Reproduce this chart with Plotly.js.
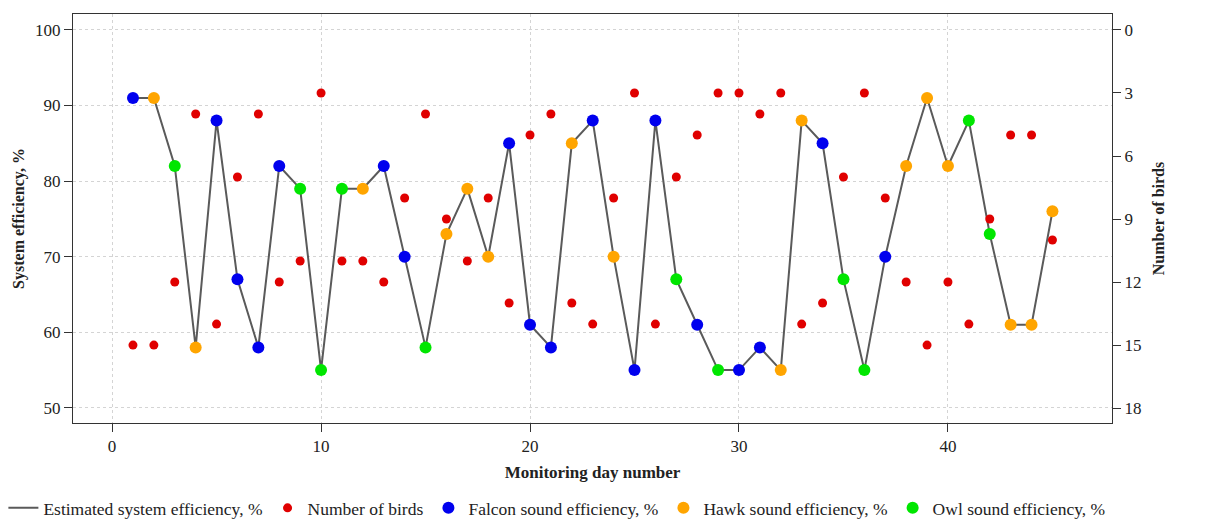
<!DOCTYPE html>
<html>
<head>
<meta charset="utf-8">
<script src="https://cdn.plot.ly/plotly-3.0.1.min.js"></script>
<style>html,body{margin:0;padding:0;background:#fff;}#chart{width:1213px;height:519px;}</style>
</head>
<body>
<div id="chart"></div>
<script>
const days = [1,2,3,4,5,6,7,8,9,10,11,12,13,14,15,16,17,18,19,20,21,22,23,24,25,26,27,28,29,30,31,32,33,34,35,36,37,38,39,40,41,42,43,44,45];
const efficiency = [91,91,82,58,88,67,58,82,79,55,79,79,82,70,58,73,79,70,85,61,58,85,88,70,55,88,67,61,55,55,58,55,88,85,67,55,70,82,91,82,88,73,61,61,76];
const birds = [15,15,12,4,14,7,4,12,11,3,11,11,12,8,4,9,11,8,13,5,4,13,14,8,3,14,7,5,3,3,4,3,14,13,7,3,8,12,15,12,14,9,5,5,10];
const sound = ['Falcon','Hawk','Owl','Hawk','Falcon','Falcon','Falcon','Falcon','Owl','Owl','Owl','Hawk','Falcon','Falcon','Owl','Hawk','Hawk','Hawk','Falcon','Falcon','Falcon','Hawk','Falcon','Hawk','Falcon','Falcon','Owl','Falcon','Owl','Falcon','Falcon','Hawk','Hawk','Falcon','Owl','Owl','Falcon','Hawk','Hawk','Hawk','Owl','Owl','Hawk','Hawk','Hawk'];
const soundTypes = ['Falcon','Hawk','Owl'];
const soundColors = {Falcon:'#0000ee', Hawk:'#ffa500', Owl:'#00e600'};
const xTicks = [0, 10, 20, 30, 40];
const yTicks = [50, 60, 70, 80, 90, 100];
const y2Ticks = [0, 3, 6, 9, 12, 15, 18];

const serif = "'Liberation Serif', 'Times New Roman', serif";
const traces = [];
traces.push({
  x: days, y: efficiency, mode: 'lines', name: 'Estimated system efficiency, %',
  line: {color: '#5a5a5a', width: 2}, hoverinfo: 'skip'
});
traces.push({
  x: days, y: birds, yaxis: 'y2', mode: 'markers', name: 'Number of birds',
  marker: {color: '#e00000', size: 9}
});
soundTypes.forEach(function(s){
  const xs = [], ys = [];
  days.forEach(function(d, i){ if (sound[i] === s) { xs.push(d); ys.push(efficiency[i]); } });
  traces.push({
    x: xs, y: ys, mode: 'markers', name: s + ' sound efficiency, %',
    marker: {color: soundColors[s], size: 12}
  });
});

const axisCommon = {
  showline: true, linecolor: '#333', linewidth: 1, automargin: false,
  ticks: 'outside', ticklen: 8, tickcolor: '#333', tickwidth: 1,
  tickfont: {family: serif, size: 17, color: '#222'},
  zeroline: false
};

const layout = {
  width: 1213, height: 519,
  font: {family: serif, size: 17, color: '#222'},
  margin: {l: 73, r: 101, t: 14, b: 96, autoexpand: false},
  paper_bgcolor: '#fff', plot_bgcolor: '#fff',
  showlegend: true,
  legend: {
    orientation: 'h', x: -0.067, xanchor: 'left', y: -0.2518, yanchor: 'bottom',
    font: {family: serif, size: 17.5, color: '#222'}, bgcolor: 'rgba(0,0,0,0)',
    tracegroupgap: 0
  },
  xaxis: Object.assign({}, axisCommon, {
    range: [-1.87, 47.85], tickvals: xTicks, mirror: true,
    showgrid: true, gridcolor: '#d4d4d4', griddash: 'dot', gridwidth: 1,
    title: {text: '<b>Monitoring day number</b>', font: {family: serif, size: 17, color: '#222'}, standoff: 10}
  }),
  yaxis: Object.assign({}, axisCommon, {
    range: [48.0, 102.1], tickvals: yTicks, mirror: true,
    showgrid: true, gridcolor: '#d4d4d4', griddash: 'dot', gridwidth: 1,
    title: {text: '<b>System efficiency, %</b>', font: {family: serif, size: 16, color: '#222'}, standoff: 6}
  }),
  yaxis2: Object.assign({}, axisCommon, {
    overlaying: 'y', side: 'right', range: [18.71, -0.76],
    tickvals: y2Ticks, showgrid: false,
    title: {text: '<b>Number of birds</b>', font: {family: serif, size: 16, color: '#222'}, standoff: 12}
  })
};

Plotly.newPlot('chart', traces, layout, {displayModeBar: false, staticPlot: true});
</script>
</body>
</html>
